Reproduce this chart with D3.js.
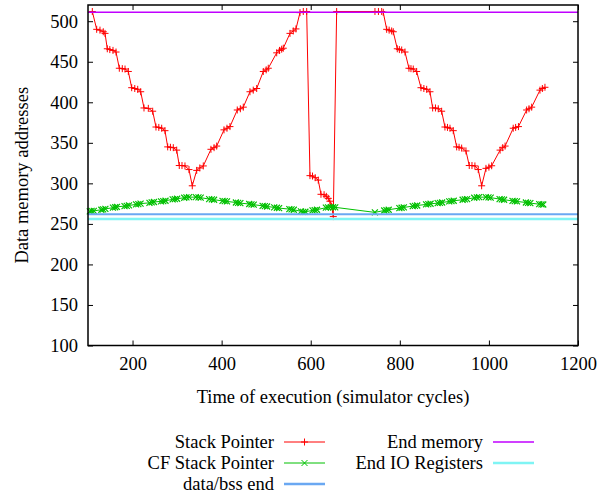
<!DOCTYPE html>
<html>
<head>
<meta charset="utf-8">
<script src="https://cdn.jsdelivr.net/npm/d3@7"></script>
<style>
  body { margin: 0; background: #fff; }
</style>
</head>
<body>
<script>
// stack pointer samples [cycle, address]
const stackPointer = [
  [109.7,512],[119.5,490],[126.9,489],[134.3,487],[138.2,485],
  [143.3,466],[149,465],[156.1,464],[162.9,462],
  [170.3,442],[177,441.5],[183.1,441],[190.5,438],
  [198.1,418],[205,417],[211.6,416],[218.3,413],
  [225.7,393],[235.4,392.5],[245.2,389],
  [252.6,369.5],[259,369],[265.4,368],[272.8,365],
  [278.9,345],[285,344.5],[291.5,344],[299.1,341],
  [304.9,322],[311,322],[317.7,321.5],[326.7,317],
  [334.1,297],
  [344,316],[351,319],[358.8,321.5],
  [376,342],[383,344],[388.9,346],
  [405.3,366],[412,368],[418.7,370],
  [435.1,390.5],[442,392],[448.6,394],
  [463.6,413],[471,415],[478.7,417],
  [493.5,438],[500,440],[504.7,442],
  [523.6,461],[530,464],[534.8,465.5],[538.4,466.7],
  [553.4,485],[560.8,488],[566.9,490.5],
  [575.9,510.6],[583.3,512],[590.9,512],
  [598.3,309.5],[604,309],[610,307],[616.9,304],
  [623,286.5],[630,286],[635,284],[639.4,281.5],
  [643,278],[647,272],[650.6,259],
  [658.2,512],
  [744.2,512],[752,512],[759.3,512],[762.8,511],
  [770.5,490],[776,489],[781.7,488],[785.3,487],
  [794.3,466],[799,465],[804.2,464.5],[811.6,462],
  [820.5,442],[825,441.5],[830.2,441],[837.8,438],
  [847.5,418],[854,417],[860.3,416],[867.7,413],
  [873.7,393],[880,393],[886.3,392],[893.9,389],
  [901.3,369.5],[907,369],[912.6,368],[920,365],
  [927.6,345],[933,344.5],[938.8,343.5],[948.5,340],
  [955.9,322],[962,322],[968.6,321.5],[976.1,317],
  [983.7,297],
  [993.4,318.5],[1000,320],[1006.2,321.7],
  [1025.1,341],[1031,344],[1036.3,346],
  [1054.6,368],[1060,369],[1066.3,370],
  [1084.7,390.5],[1090,392],[1096,394],
  [1114.6,415],[1120,417],[1125.8,418.5]
];

// CF stack pointer samples [cycle, address]
const cfStackPointer = [
  [104,265.5],[108,266],[113,266],
  [130,267.5],[134,268],[139,268.5],
  [156,270],[161,270.5],[165,271],
  [182,272],[187,272.3],[192,272.8],
  [208,274],[213,274.4],[218,275],
  [238,276],[243,276.5],[248,277],
  [264,277.8],[269,278.1],[274,278.6],
  [290,280.2],[295,280.6],[300,281],
  [316,282.3],[321,282.7],[327,283],
  [342,283],[348,282.7],[353,282.4],
  [372,280.6],[378,280.2],[383,279.8],
  [402,278.4],[407,278.1],[412,277.7],
  [432,276.4],[437,276],[442,275.6],
  [462,274.5],[467,274.1],[472,273.7],
  [492,272.3],[497,271.9],[502,271.5],
  [518,270.3],[524,269.9],[529,269.5],
  [552,268.2],[557,267.9],[562,267.5],
  [578,265.5],[583,264.9],[588,265],
  [604,266.6],[609,267],[614,267.5],
  [634,270],[639,270.4],[645,270.6],
  [650,270.5],[655,270.4],
  [744,264.2],
  [765,266.5],[770,267],[775,267.5],
  [799,269.5],[804,269.9],[809,270.3],
  [829,271.9],[834,272.3],[839,272.7],
  [859,274],[864,274.4],[869,274.8],
  [885,275.6],[890,276],[895,276.4],
  [911,277.7],[916,278.1],[921,278.5],
  [941,279.8],[946,280.2],[951,280.6],
  [967,282.3],[973,282.7],[978,283],
  [993,283],[999,282.7],[1004,282.4],
  [1024,280.6],[1029,280.2],[1034,279.8],
  [1053,278.4],[1058,278.1],[1063,277.7],
  [1083,276.4],[1088,276],[1093,275.6],
  [1113,274.3],[1118,274.1],[1122,273.9]
];

// constant levels
const dataBssEnd = 262;
const endMemory = 511;
const endIoRegisters = 256;

const xTicks = [200, 400, 600, 800, 1000, 1200];
const yTicks = [100, 150, 200, 250, 300, 350, 400, 450, 500];

const FONT = "'Liberation Serif'";

const margin = {top: 5, right: 30, bottom: 147.5, left: 88},
    width = 608 - margin.left - margin.right,
    height = 493 - margin.top - margin.bottom;

var x = d3.scaleLinear().domain([100, 1200]).range([0, width]);
var y = d3.scaleLinear().domain([100, 520]).range([height, 0]);

var svg = d3.select("body").append("svg")
    .attr("width", 608)
    .attr("height", 493)
  .append("g")
    .attr("transform", "translate(" + margin.left + "," + margin.top + ")");

// axes, ticks inward and mirrored
svg.append("g")
    .attr("transform", "translate(0," + height + ")")
    .call(d3.axisBottom(x).tickValues(xTicks).tickFormat(d3.format("d"))
      .tickSizeInner(-5).tickSizeOuter(0).tickPadding(11));
svg.append("g")
    .call(d3.axisTop(x).tickValues(xTicks).tickSizeInner(-5).tickSizeOuter(0).tickFormat(""));
svg.append("g")
    .call(d3.axisLeft(y).tickValues(yTicks).tickFormat(d3.format("d"))
      .tickSizeInner(-5).tickSizeOuter(0).tickPadding(10));
svg.append("g")
    .attr("transform", "translate(" + width + ",0)")
    .call(d3.axisRight(y).tickValues(yTicks).tickSizeInner(-5).tickSizeOuter(0).tickFormat(""));

svg.selectAll(".domain").remove();
svg.selectAll(".tick line").attr("stroke", "#000");

var line = d3.line().x(function(d) { return x(d[0]); }).y(function(d) { return y(d[1]); });
var plus = "M-3.5,0H3.5M0,-3.5V3.5";
var cross = "M-3,-3L3,3M-3,3L3,-3";

// stack pointer
svg.append("path").datum(stackPointer)
    .attr("d", line).attr("fill", "none").attr("stroke", "#ff0000").attr("stroke-width", 1);
svg.append("g").selectAll("path").data(stackPointer).enter().append("path")
    .attr("transform", function(d) { return "translate(" + x(d[0]) + "," + y(d[1]) + ")"; })
    .attr("d", plus).attr("stroke", "#ff0000").attr("stroke-width", 1);

// CF stack pointer
svg.append("path").datum(cfStackPointer)
    .attr("d", line).attr("fill", "none").attr("stroke", "#00c000").attr("stroke-width", 1);
svg.append("g").selectAll("path").data(cfStackPointer).enter().append("path")
    .attr("transform", function(d) { return "translate(" + x(d[0]) + "," + y(d[1]) + ")"; })
    .attr("d", cross).attr("stroke", "#00c000").attr("stroke-width", 1.2);

// constant lines
var levels = [
  {v: dataBssEnd, c: "#6aa8f2", w: 2},
  {v: endMemory, c: "#c000ff", w: 1.5},
  {v: endIoRegisters, c: "#7ff4f4", w: 2.5}
];
svg.append("g").selectAll("line").data(levels).enter().append("line")
    .attr("x1", 0).attr("x2", width)
    .attr("y1", function(d) { return y(d.v); })
    .attr("y2", function(d) { return y(d.v); })
    .attr("stroke", function(d) { return d.c; })
    .attr("stroke-width", function(d) { return d.w; });

// border
svg.append("rect")
    .attr("width", width).attr("height", height)
    .attr("fill", "none").attr("stroke", "#000").attr("stroke-width", 1.5);

// axis titles
svg.append("text")
    .attr("x", width / 2).attr("y", 398)
    .attr("text-anchor", "middle")
    .text("Time of execution (simulator cycles)");
svg.append("text")
    .attr("transform", "translate(" + (28 - margin.left) + "," + (height / 2) + ") rotate(-90)")
    .attr("text-anchor", "middle")
    .text("Data memory addresses");

// legend
var legend = d3.select("svg").append("g");
var entries = [
  {name: "Stack Pointer", c: "#ff0000", w: 1, m: plus, tx: 274, lx: 284, ly: 442},
  {name: "CF Stack Pointer", c: "#00c000", w: 1, m: cross, tx: 274, lx: 284, ly: 463},
  {name: "data/bss end", c: "#6aa8f2", w: 2.5, m: null, tx: 274, lx: 284, ly: 484},
  {name: "End memory", c: "#c000ff", w: 1.5, m: null, tx: 483, lx: 493, ly: 442},
  {name: "End IO Registers", c: "#7ff4f4", w: 2.5, m: null, tx: 483, lx: 493, ly: 463}
];
entries.forEach(function(e) {
  legend.append("text")
      .attr("x", e.tx).attr("y", e.ly + 6)
      .attr("text-anchor", "end")
      .text(e.name);
  legend.append("line")
      .attr("x1", e.lx).attr("x2", e.lx + 41)
      .attr("y1", e.ly).attr("y2", e.ly)
      .attr("stroke", e.c).attr("stroke-width", e.w);
  if (e.m) {
    legend.append("path")
        .attr("transform", "translate(" + (e.lx + 20.5) + "," + e.ly + ")")
        .attr("d", e.m).attr("stroke", e.c).attr("stroke-width", 1);
  }
});

// every text in the serif face
d3.selectAll("svg text")
    .style("font-family", FONT)
    .style("font-size", "18.5px")
    .style("fill", "#000");
</script>
</body>
</html>
